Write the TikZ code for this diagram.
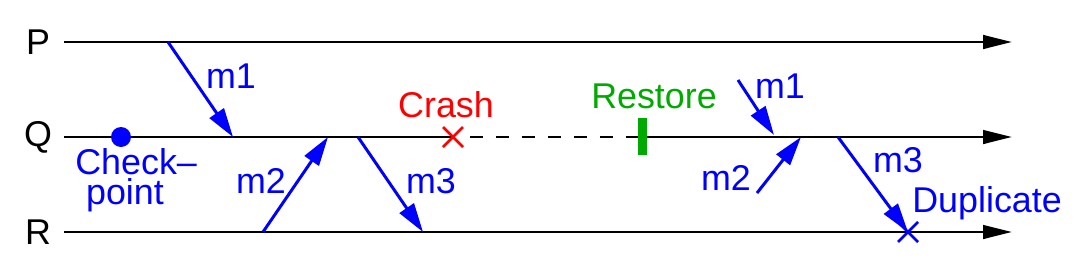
\documentclass[tikz,border=0pt]{standalone}
\usepackage{fontspec}
\setmainfont{Liberation Sans}
\usetikzlibrary{arrows.meta}
\definecolor{restoregreen}{RGB}{0,170,0}
\tikzset{
  timeline/.style={line width=1.7pt, -{Triangle[length=0.58cm,width=0.27cm]}},
  qline/.style={line width=1.7pt},
  msg/.style={blue, line width=1.7pt, -{Triangle[length=0.58cm,width=0.34cm]}},
  lbl/.style={inner sep=0pt, anchor=base, font=\fontsize{20.4}{15.3}\selectfont},
  xmark/.style={line width=1.5pt},
}

\begin{document}
\begin{tikzpicture}[x=0.02cm, y=-0.02cm]
\useasboundingbox (0,0) rectangle (1090,278);
\coordinate (pS) at (64,42);
\coordinate (pE) at (1012,42);
\coordinate (qS) at (64,137);
\coordinate (qE) at (1012,137);
\coordinate (rS) at (64,232);
\coordinate (rE) at (1012,232);
\coordinate (crash) at (453,137);
\coordinate (gap) at (470,137);
\coordinate (restore) at (642,137);
\coordinate (dup) at (908,232);
\node[lbl, anchor=center] (p) at (38,42) {P};
\node[lbl, anchor=center] (q) at (38,137) {Q};
\node[lbl, anchor=center] (r) at (38,232) {R};
\draw[timeline] (pS) -- (pE);
\draw[timeline] (rS) -- (rE);
\draw[qline] (qS) -- (crash);
\draw[qline, dash pattern=on 0.26cm off 0.26cm] (gap) -- (restore);
\draw[timeline] (restore) -- (qE);
\fill[restoregreen] (638,118) rectangle (647,155);
\fill[blue] (121,137) circle (10);
\draw[xmark, red] (443,127) -- (463,147) (443,147) -- (463,127);
\draw[xmark, blue] (898,222) -- (918,242) (898,242) -- (918,222);
\coordinate (m1aS) at (168,42);
\coordinate (m1aE) at (233,137);
\coordinate (m2aS) at (263,232);
\coordinate (m2aE) at (328,137);
\coordinate (m3aS) at (358,137);
\coordinate (m3aE) at (423,232);
\coordinate (m1bS) at (738,80);
\coordinate (m1bE) at (774,135);
\coordinate (m2bS) at (757,193);
\coordinate (m2bE) at (801,137);
\coordinate (m3bS) at (838,137);
\draw[msg] (m1aS) -- (m1aE);
\draw[msg] (m2aS) -- (m2aE);
\draw[msg] (m3aS) -- (m3aE);
\draw[msg] (m1bS) -- (m1bE);
\draw[msg] (m2bS) -- (m2bE);
\draw[msg] (m3bS) -- (dup);
\node[lbl, blue] (m1a) at (231,88) {m1};
\node[lbl, blue] (m2a) at (261,193) {m2};
\node[lbl, blue] (m3a) at (431,193) {m3};
\node[lbl, blue] (m1b) at (780,98) {m1};
\node[lbl, blue] (m2b) at (726,190) {m2};
\node[lbl, blue] (m3b) at (898,172) {m3};
\node[lbl, red] (crashlbl) at (446,117) {Crash};
\node[lbl, restoregreen] (restorelbl) at (654,108) {Restore};
\node[lbl, blue, anchor=base west] (duplbl) at (912,212) {Duplicate};
\node[lbl, blue, anchor=base west] (chk) at (75,174) {Check--};
\node[lbl, blue] (chkpt) at (125,204) {point};
\end{tikzpicture}
\end{document}
